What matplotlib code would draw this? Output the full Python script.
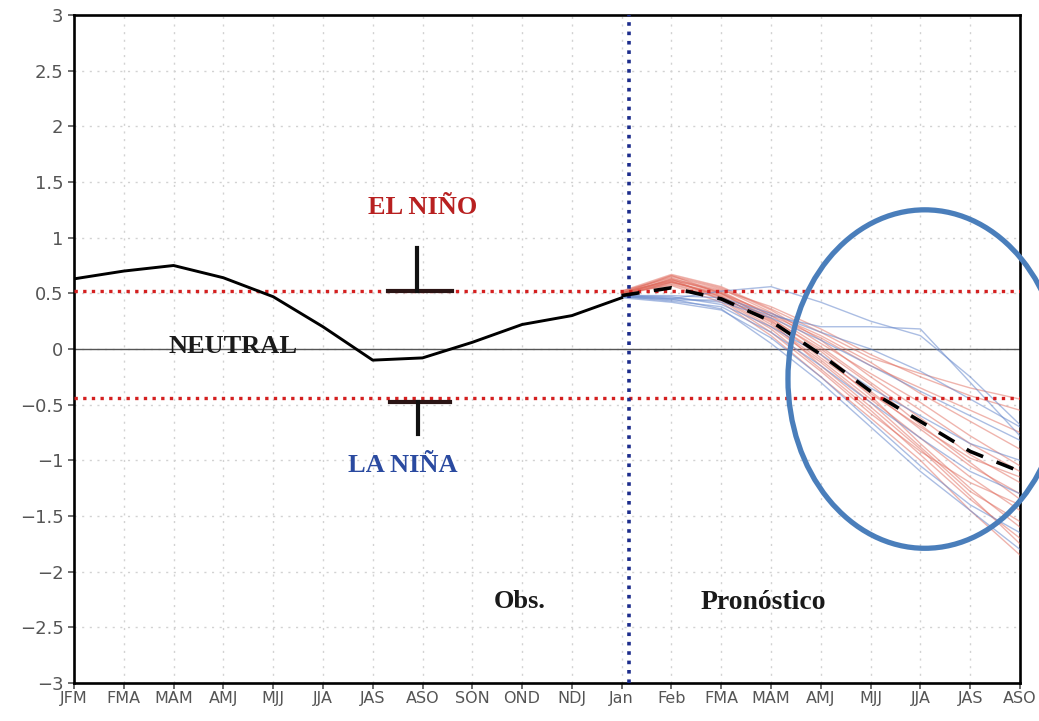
import numpy as np
import matplotlib.pyplot as plt
from matplotlib.patches import Ellipse

# etiquetas del eje x (trimestres móviles / meses)
xlabels = ['JFM', 'FMA', 'MAM', 'AMJ', 'MJJ', 'JJA', 'JAS', 'ASO', 'SON', 'OND',
           'NDJ', 'Jan', 'Feb', 'FMA', 'MAM', 'AMJ', 'MJJ', 'JJA', 'JAS', 'ASO']

# observado (JFM .. Jan)
obs = [0.63, 0.70, 0.75, 0.64, 0.47, 0.20, -0.10, -0.08, 0.06, 0.22, 0.30, 0.46]

# pronóstico: media del ensamble (Jan .. ASO)
fc_mean = [0.48, 0.55, 0.45, 0.25, -0.05, -0.38, -0.65, -0.92, -1.10]

# miembros del ensamble (Jan .. ASO)
red_members = [
    [0.50, 0.62, 0.52, 0.30, 0.02, -0.30, -0.62, -0.95, -1.20],
    [0.50, 0.66, 0.55, 0.35, 0.08, -0.25, -0.55, -0.85, -1.10],
    [0.48, 0.60, 0.48, 0.22, -0.10, -0.45, -0.80, -1.15, -1.45],
    [0.50, 0.58, 0.45, 0.18, -0.18, -0.55, -0.95, -1.35, -1.70],
    [0.52, 0.64, 0.50, 0.28, -0.02, -0.38, -0.72, -1.05, -1.30],
    [0.49, 0.60, 0.50, 0.32, 0.12, -0.12, -0.40, -0.65, -0.90],
    [0.50, 0.63, 0.53, 0.38, 0.18, -0.05, -0.25, -0.42, -0.55],
    [0.50, 0.57, 0.42, 0.12, -0.25, -0.62, -1.00, -1.45, -1.85],
    [0.51, 0.61, 0.47, 0.25, -0.05, -0.42, -0.85, -1.25, -1.60],
    [0.50, 0.65, 0.54, 0.33, 0.05, -0.22, -0.48, -0.78, -1.05],
    [0.48, 0.59, 0.46, 0.20, -0.12, -0.48, -0.88, -1.28, -1.55],
    [0.50, 0.62, 0.51, 0.30, 0.10, -0.15, -0.35, -0.55, -0.75],
    [0.50, 0.60, 0.49, 0.27, 0.00, -0.32, -0.68, -1.02, -1.35],
    [0.52, 0.67, 0.56, 0.36, 0.15, -0.08, -0.22, -0.35, -0.45],
    [0.49, 0.63, 0.44, 0.15, -0.20, -0.58, -0.92, -1.20, -1.40],
    [0.51, 0.66, 0.50, 0.26, -0.08, -0.40, -0.70, -0.98, -1.15],
    [0.50, 0.61, 0.47, 0.24, -0.15, -0.52, -0.90, -1.32, -1.75],
]
blue_members = [
    [0.48, 0.45, 0.52, 0.56, 0.42, 0.25, 0.12, -0.25, -0.68],
    [0.47, 0.44, 0.44, 0.30, 0.20, 0.20, 0.18, -0.30, -0.78],
    [0.48, 0.47, 0.40, 0.20, -0.05, -0.35, -0.60, -0.85, -1.00],
    [0.46, 0.42, 0.35, 0.10, -0.25, -0.65, -1.05, -1.40, -1.65],
    [0.48, 0.46, 0.42, 0.28, 0.08, -0.15, -0.38, -0.60, -0.82],
    [0.47, 0.43, 0.38, 0.15, -0.15, -0.48, -0.80, -1.10, -1.30],
    [0.48, 0.48, 0.46, 0.32, 0.15, 0.00, -0.20, -0.45, -0.70],
    [0.47, 0.45, 0.36, 0.05, -0.30, -0.70, -1.10, -1.45, -1.80],
]

fig = plt.figure(figsize=(10.39, 7.21), dpi=100)
ax = fig.add_axes([0.0712, 0.0527, 0.9105, 0.9265])

xo = np.arange(len(obs))
xf = np.arange(11, 11 + len(fc_mean))

# rejilla punteada
ax.set_xticks(np.arange(len(xlabels)))
ax.set_xticklabels(xlabels)
ax.set_yticks(np.arange(-3, 3.01, 0.5))
ax.set_yticklabels(['−3', '−2.5', '−2', '−1.5', '−1', '−0.5', '0',
                    '0.5', '1', '1.5', '2', '2.5', '3'])
ax.grid(True, color='#d2d2d2', linestyle=(0, (1.5, 4)), linewidth=1)
ax.axhline(0, color='#555555', linewidth=1, zorder=2)

for m in red_members:
    ax.plot(xf, m, color='#e06a5c', linewidth=1, alpha=0.5, zorder=3)
for m in blue_members:
    ax.plot(xf, m, color='#6688cc', linewidth=1, alpha=0.55, zorder=3)

ax.plot(xo, obs, color='black', linewidth=2.1, zorder=5)
ax.plot(xf, fc_mean, color='black', linewidth=2.6, dashes=(5, 4), zorder=6)

# umbrales
ax.axhline(0.52, color='#d42020', linestyle=(0, (1, 1.6)), linewidth=2.4, zorder=4)
ax.axhline(-0.44, color='#d42020', linestyle=(0, (1, 1.6)), linewidth=2.4, zorder=4)
ax.axvline(11.15, color='#1c2c8c', linestyle=(0, (1, 1.6)), linewidth=2.6, zorder=4)

# marcas en T
ax.plot([6.3, 7.6], [0.52, 0.52], color='#2a1414', linewidth=3, zorder=7)
ax.plot([6.88, 6.88], [0.52, 0.91], color='#111111', linewidth=3, zorder=7)
ax.plot([6.35, 7.55], [-0.48, -0.48], color='#2a1414', linewidth=3, zorder=7)
ax.plot([6.9, 6.9], [-0.48, -0.76], color='#111111', linewidth=3, zorder=7)

serif = dict(family='Liberation Serif', fontweight='bold', fontsize=19)
ax.text(7.0, 1.27, 'EL NIÑO', color='#b82020', ha='center', va='center', **serif)
ax.text(3.2, 0.02, 'NEUTRAL', color='#1a1a1a', ha='center', va='center', **serif)
ax.text(6.6, -1.05, 'LA NIÑA', color='#2a4aa0', ha='center', va='center', **serif)
ax.text(8.95, -2.27, 'Obs.', color='#1a1a1a', ha='center', va='center', **serif)
ax.text(13.85, -2.28, 'Pronóstico', color='#1a1a1a', ha='center', va='center',
        family='Liberation Serif', fontweight='bold', fontsize=20)

ax.add_patch(Ellipse((17.09, -0.27), width=5.5, height=3.04, fill=False,
                     edgecolor='#4a7ebb', linewidth=3.8, clip_on=False, zorder=10))

ax.set_xlim(0, 19)
ax.set_ylim(-3, 3)
for s in ax.spines.values():
    s.set_linewidth(1.9)
ax.tick_params(axis='both', colors='#555555', length=4, width=1.2)
ax.tick_params(axis='x', labelsize=11.5, pad=2)
ax.tick_params(axis='y', labelsize=13)

fig.savefig('out.png', dpi=100)
